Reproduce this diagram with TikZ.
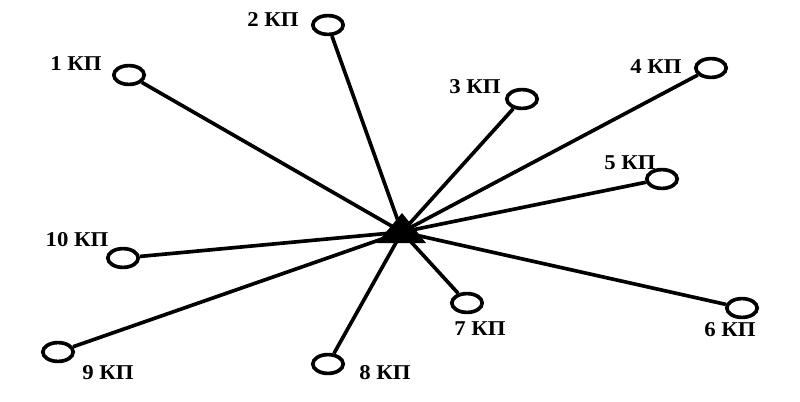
\documentclass[tikz,border=0pt]{standalone}
\usepackage{fontspec}
\setmainfont[FakeStretch=1.08]{Liberation Serif}
\usepackage{tikz}
\usetikzlibrary{positioning, shapes.geometric}
\tikzset{
  kp/.style={draw=black, ellipse, line width=2.6pt, minimum width=0.76cm, minimum height=0.47cm, inner sep=0pt},
  kplabel/.style={font=\fontsize{15}{16}\selectfont\bfseries, inner sep=0pt},
  link/.style={line width=2.6pt}
}
\begin{document}
\begin{tikzpicture}[x=0.025cm, y=-0.025cm]
\useasboundingbox (0,0) rectangle (800,401);
\coordinate (hub) at (402,232);
\node[kp] (kp1) at (129,75) {};
\node[kp] (kp2) at (328,25) {};
\node[kp] (kp3) at (522,99) {};
\node[kp] (kp4) at (711,68) {};
\node[kp] (kp5) at (662,179) {};
\node[kp] (kp6) at (742,308) {};
\node[kp] (kp7) at (467,303) {};
\node[kp] (kp8) at (328,364) {};
\node[kp] (kp9) at (58,352) {};
\node[kp] (kp10) at (123,258) {};
\node[kplabel] (lab1) at (76,64) {1 КП};
\node[kplabel] (lab2) at (273,20) {2 КП};
\node[kplabel] (lab3) at (475,87) {3 КП};
\node[kplabel] (lab4) at (656,67) {4 КП};
\node[kplabel] (lab5) at (630,163) {5 КП};
\node[kplabel] (lab6) at (730,330) {6 КП};
\node[kplabel] (lab7) at (480,329) {7 КП};
\node[kplabel] (lab8) at (385,373) {8 КП};
\node[kplabel] (lab9) at (108,373) {9 КП};
\node[kplabel] (lab10) at (77,240) {10 КП};
\foreach \i in {1,...,10}
  \draw[link] (hub) -- (kp\i);
% base station
\fill (hub) ++(0,-19) -- ++(24,30) -- ++(-49,0) -- cycle;
\end{tikzpicture}
\end{document}
